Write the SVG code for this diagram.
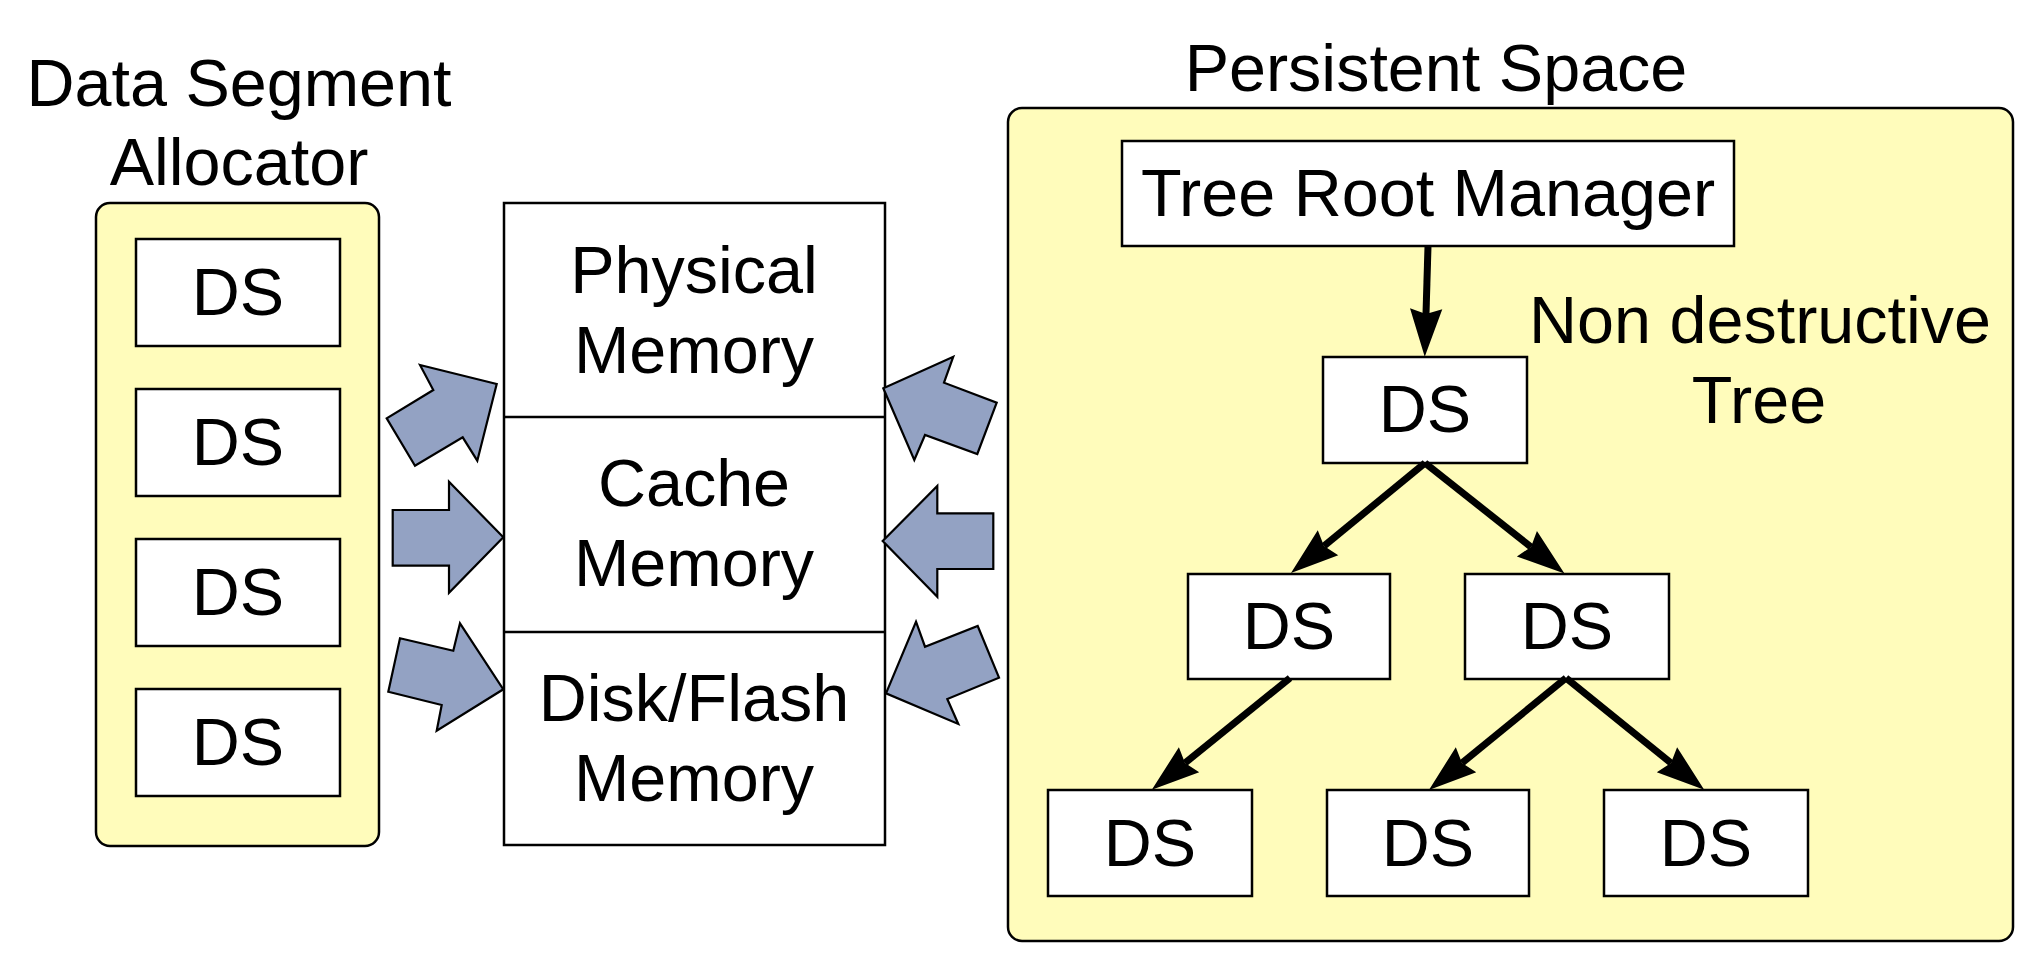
<svg xmlns="http://www.w3.org/2000/svg" width="2041" height="972" viewBox="0 0 2041 972">
<style>
text{font-family:"Liberation Sans",Arial,sans-serif;font-size:66.5px;fill:#000;text-anchor:middle}
.grp{fill:#fffcbb;stroke:#000;stroke-width:2.5}
.box{fill:#fff;stroke:#000;stroke-width:2.5}
.blk{fill:#93a2c3;stroke:#000;stroke-width:2.2;stroke-linejoin:miter}
.edge{fill:none;stroke:#000;stroke-width:7}
</style>
<defs>
<marker id="ah" markerUnits="userSpaceOnUse" markerWidth="50" markerHeight="34" viewBox="0 -16 48 32" refX="5" refY="0" orient="auto" overflow="visible">
<path d="M46,0 L0,-15.5 L5,0 L0,15.5 Z" fill="#000"/>
</marker>
</defs>
<rect width="2041" height="972" fill="#fff"/>

<g id="allocator">
<text x="239" y="106">Data Segment</text>
<text x="239" y="185">Allocator</text>
<rect class="grp" x="96" y="203" width="283" height="643" rx="14"/>
</g>
<g id="ds-a1"><rect class="box" x="136" y="239" width="204" height="107"/><text x="238" y="315">DS</text></g>
<g id="ds-a2"><rect class="box" x="136" y="389" width="204" height="107"/><text x="238" y="465">DS</text></g>
<g id="ds-a3"><rect class="box" x="136" y="539" width="204" height="107"/><text x="238" y="615">DS</text></g>
<g id="ds-a4"><rect class="box" x="136" y="689" width="204" height="107"/><text x="238" y="765">DS</text></g>

<g id="memory">
<rect class="box" x="504" y="203" width="381" height="642"/>
<line x1="504" y1="417" x2="885" y2="417" stroke="#000" stroke-width="2.5"/>
<line x1="504" y1="632" x2="885" y2="632" stroke="#000" stroke-width="2.5"/>
<text x="694" y="293">Physical</text>
<text x="694" y="373">Memory</text>
<text x="694" y="506">Cache</text>
<text x="694" y="586">Memory</text>
<text x="694" y="721">Disk/Flash</text>
<text x="694" y="801">Memory</text>
</g>

<g id="block-arrows">
<polygon class="blk" points="420,365 496.7,384 477.3,460.7 462.7,437.3 415,465.7 386.7,418.3 433.3,390"/>
<polygon class="blk" points="449,481.7 503.3,537.3 449,592.7 449,565.7 392.7,565.7 392.7,510 449,510"/>
<polygon class="blk" points="460,623.3 503.3,689.3 436.7,730.7 441.7,705 388.3,691.7 400,638.3 453.3,650.7"/>
<polygon class="blk" points="953.3,356.7 944,382.7 996.7,402.7 977.3,454 925,435 914.3,460 883.3,388.3"/>
<polygon class="blk" points="937.3,486 937.3,513.3 993.3,513.3 993.3,569 937.3,569 937.3,596.7 882.7,541"/>
<polygon class="blk" points="916,621.7 925,646.7 977.7,626 999,677.7 947.3,699 958.3,724 886,693.3"/>
</g>

<g id="persistent">
<text x="1436" y="91">Persistent Space</text>
<rect class="grp" x="1008" y="108" width="1005" height="833" rx="14"/>
<text x="1760" y="343">Non destructive</text>
<text x="1759" y="423">Tree</text>
</g>
<g id="trm"><rect class="box" x="1122" y="141" width="612" height="105"/><text x="1428" y="216">Tree Root Manager</text></g>
<g id="ds-t0"><rect class="box" x="1323" y="357" width="204" height="106"/><text x="1425" y="432">DS</text></g>
<g id="ds-t1"><rect class="box" x="1188" y="574" width="202" height="105"/><text x="1289" y="649">DS</text></g>
<g id="ds-t2"><rect class="box" x="1465" y="574" width="204" height="105"/><text x="1567" y="649">DS</text></g>
<g id="ds-t3"><rect class="box" x="1048" y="790" width="204" height="106"/><text x="1150" y="866">DS</text></g>
<g id="ds-t4"><rect class="box" x="1327" y="790" width="202" height="106"/><text x="1428" y="866">DS</text></g>
<g id="ds-t5"><rect class="box" x="1604" y="790" width="204" height="106"/><text x="1706" y="866">DS</text></g>

<g id="connectors">
<line class="edge" x1="1428" y1="246" x2="1426" y2="314" marker-end="url(#ah)"/>
<line class="edge" x1="1425" y1="463" x2="1324" y2="546" marker-end="url(#ah)"/>
<line class="edge" x1="1425" y1="463" x2="1531" y2="547" marker-end="url(#ah)"/>
<line class="edge" x1="1290" y1="678" x2="1185" y2="763" marker-end="url(#ah)"/>
<line class="edge" x1="1566" y1="678" x2="1462" y2="763" marker-end="url(#ah)"/>
<line class="edge" x1="1566" y1="678" x2="1671" y2="763" marker-end="url(#ah)"/>
</g>
</svg>
